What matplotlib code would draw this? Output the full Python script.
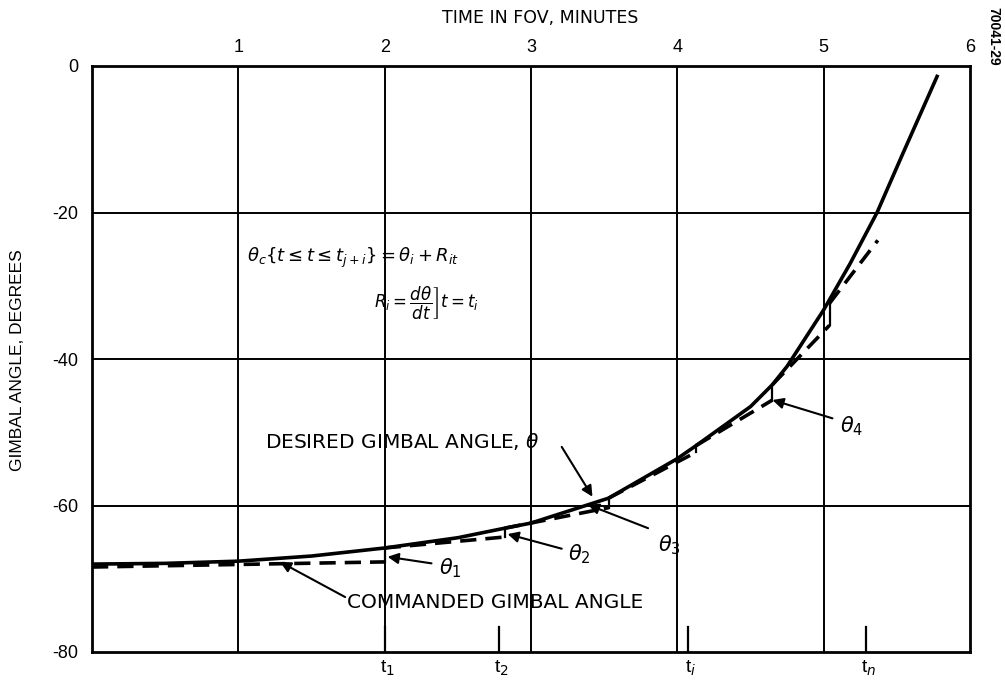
import matplotlib
matplotlib.use("Agg")
import matplotlib.pyplot as plt
import numpy as np

plt.rcParams['font.family'] = ['Liberation Sans', 'DejaVu Sans']
plt.rcParams['axes.unicode_minus'] = False
plt.rcParams['mathtext.fontset'] = 'dejavusans'

# desired gimbal angle (solid curve)
time_desired = [0.0, 0.5, 1.0, 1.5, 2.0, 2.5, 2.82, 3.0, 3.53, 4.0, 4.13, 4.5, 4.65, 4.75,
                5.0, 5.18, 5.365, 5.54, 5.78]
angle_desired = [-68.0, -67.9, -67.6, -66.9, -65.8, -64.4, -63.1, -62.4, -59.0, -53.6, -51.8,
                 -46.5, -43.5, -41.0, -33.3, -27.0, -20.0, -12.0, -1.2]

# commanded gimbal angle, one straight segment per update interval
seg_t0 = [0.0, 2.0, 2.82, 3.53, 4.13, 4.65, 5.04]
seg_t1 = [2.0, 2.82, 3.53, 4.13, 4.65, 5.04, 5.37]
seg_a0 = [-68.4, -65.8, -63.1, -59.0, -51.8, -43.5, -32.4]
seg_a1 = [-67.7, -64.3, -60.3, -52.7, -45.6, -35.4, -23.8]

# update-time markers on the bottom axis
marker_t = [2.0, 2.78, 4.07, 5.29]
marker_lbl = ['t$_1$', 't$_2$', 't$_i$', 't$_n$']

xticks = [1, 2, 3, 4, 5, 6]
yticks = [0, -20, -40, -60, -80]

fig = plt.figure(figsize=(10.05, 6.81), dpi=100)
ax = fig.add_axes([92/1005, 1-652/681, (970-92)/1005, (652-66)/681])
ax.set_xlim(0, 6)
ax.set_ylim(-80, 0)

for x in xticks[:-1]:
    ax.axvline(x, color='k', lw=1.4)
for y in yticks[1:-1]:
    ax.axhline(y, color='k', lw=1.4)
for s in ax.spines.values():
    s.set_linewidth(2)

ax.xaxis.tick_top()
ax.set_xticks(xticks)
ax.set_xticklabels([str(v) for v in xticks])
ax.set_yticks(yticks)
ax.set_yticklabels([str(v) for v in yticks])
ax.tick_params(length=0, labelsize=13)
ax.tick_params(axis='y', pad=10)
ax.tick_params(axis='x', pad=7)

ax.plot(time_desired, angle_desired, color='k', lw=2.6, solid_capstyle='butt')

for i in range(len(seg_t0)):
    ax.plot([seg_t0[i], seg_t1[i]], [seg_a0[i], seg_a1[i]], color='k', lw=2.6,
            dashes=(4.5, 2.5))
    if i + 1 < len(seg_t0):
        ax.plot([seg_t1[i], seg_t0[i+1]], [seg_a1[i], seg_a0[i+1]], color='k', lw=1.6)

for t, lbl in zip(marker_t, marker_lbl):
    ax.plot([t, t], [-80, -76.6], color='k', lw=1.6)
    ax.text(t + 0.02, -80.9, lbl, fontsize=14, ha='center', va='top', clip_on=False)

ax.text(1.06, -26.2, r'$\theta_c\left\{t\leq t\leq t_{j+i}\right\}=\theta_i+R_{it}$',
        fontsize=13, va='center', ha='left')
ax.text(1.93, -32.4, r'$R_i=\left.\dfrac{d\theta}{dt}\right]t=t_i$',
        fontsize=12, va='center', ha='left')

arrow = dict(arrowstyle='-|>', color='k', lw=1.5, mutation_scale=16, shrinkA=0, shrinkB=0)
lab_font = dict(family='DejaVu Sans', fontsize=14.5)

ax.text(1.18, -51.3, r'DESIRED GIMBAL ANGLE, $\theta$', va='center', ha='left', **lab_font)
ax.annotate('', xy=(3.42, -58.8), xytext=(3.21, -52.0), arrowprops=arrow)
ax.text(1.74, -73.2, 'COMMANDED GIMBAL ANGLE', va='center', ha='left', **lab_font)
ax.annotate('', xy=(1.285, -67.7), xytext=(1.73, -72.5), arrowprops=arrow)

theta_lbl = [r'$\theta_1$', r'$\theta_2$', r'$\theta_3$', r'$\theta_4$']
theta_txt = [(2.37, -68.6), (3.25, -66.6), (3.87, -65.4), (5.11, -49.2)]
theta_from = [(2.32, -67.9), (3.21, -65.9), (3.80, -63.1), (5.06, -48.1)]
theta_to = [(2.02, -67.0), (2.84, -63.9), (3.39, -59.9), (4.65, -45.6)]
for lbl, p, a, b in zip(theta_lbl, theta_txt, theta_from, theta_to):
    ax.text(p[0], p[1], lbl, fontsize=15, ha='left', va='center')
    ax.annotate('', xy=b, xytext=a, arrowprops=arrow)

fig.text(540/1005, 1-18/681, 'TIME IN FOV, MINUTES', family='DejaVu Sans', fontsize=12.5,
         ha='center', va='center')
fig.text(18/1005, 1-360/681, 'GIMBAL ANGLE, DEGREES', fontsize=12.5, rotation=90,
         ha='center', va='center')
fig.text(993/1005, 1-36/681, '70041-29', fontsize=10, fontweight='bold', rotation=-90,
         ha='center', va='center')

plt.savefig('out.png', dpi=100)
